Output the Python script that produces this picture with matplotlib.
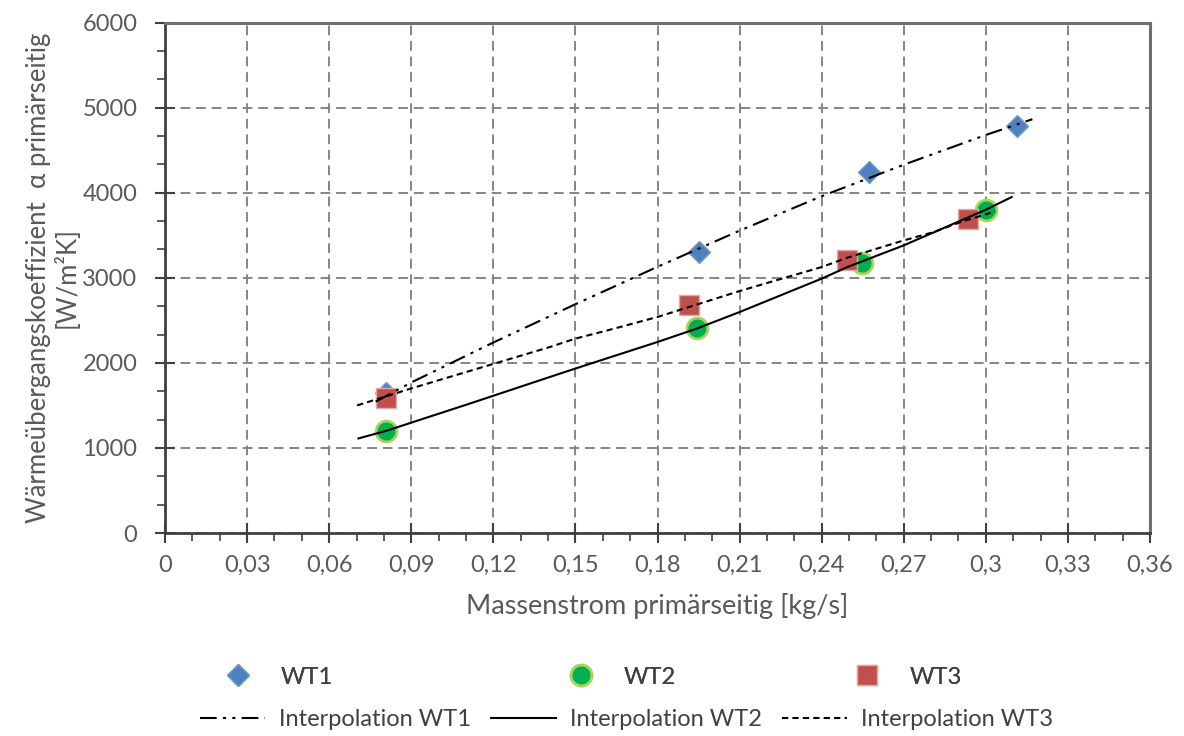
import matplotlib
matplotlib.use("Agg")
import matplotlib.pyplot as plt
from matplotlib.ticker import MultipleLocator, FuncFormatter

plt.rcParams["font.family"] = ["Lato", "DejaVu Sans"]

# measured heat transfer coefficients per heat exchanger
wt1_m = [0.0807, 0.1951, 0.2574, 0.3112]
wt1_alpha = [1650, 3300, 4250, 4790]
wt2_m = [0.0808, 0.1943, 0.2546, 0.2999]
wt2_alpha = [1200, 2410, 3170, 3800]
wt3_m = [0.0808, 0.1916, 0.2494, 0.2934]
wt3_alpha = [1590, 2685, 3215, 3690]

# interpolation curves
int1_m = [0.077, 0.09, 0.12, 0.15, 0.18, 0.21, 0.24, 0.27, 0.30, 0.317]
int1_alpha = [1545, 1770, 2240, 2690, 3130, 3555, 3960, 4330, 4680, 4865]
int2_m = [0.0707, 0.0808, 0.1115, 0.1407, 0.15, 0.18, 0.1943, 0.21, 0.24, 0.2494, 0.27, 0.30, 0.3094]
int2_alpha = [1112, 1201, 1523, 1835, 1934, 2246, 2403, 2598, 2991, 3127, 3382, 3801, 3949]
int3_m = [0.0702, 0.09, 0.1407, 0.15, 0.1618, 0.18, 0.21, 0.24, 0.2494, 0.27, 0.2809, 0.2907, 0.3034]
int3_alpha = [1500, 1700, 2187, 2286, 2383, 2540, 2845, 3127, 3237, 3440, 3538, 3655, 3781]

txt_gray = "#595959"

fig = plt.figure(figsize=(11.84, 7.36), dpi=100)
ax = fig.add_axes([0.1394, 0.2758, 0.8319, 0.6934])

p1, = ax.plot(wt1_m, wt1_alpha, ls="none", marker="D", ms=11.5, color="#4F81BD",
              mec="#6F9BD1", mew=1, zorder=3, label="WT1")
p2, = ax.plot(wt2_m, wt2_alpha, ls="none", marker="o", ms=15, color="#00B050",
              mec="#A9D45A", mew=2, zorder=3, label="WT2")
p3, = ax.plot(wt3_m, wt3_alpha, ls="none", marker="s", ms=15, color="#C0504D",
              mec="#E3A9A7", mew=1, zorder=3, label="WT3")

l1, = ax.plot(int1_m, int1_alpha, color="black", lw=1.5, ls=(0, (8, 3, 1.5, 3, 1.5, 3)),
              zorder=4, label="Interpolation WT1")
l2, = ax.plot(int2_m, int2_alpha, color="black", lw=1.5, ls="-", zorder=4,
              label="Interpolation WT2")
l3, = ax.plot(int3_m, int3_alpha, color="black", lw=1.5, ls=(0, (3, 2)), zorder=4,
              label="Interpolation WT3")

ax.set_xlim(0, 0.36)
ax.set_ylim(0, 6000)
ax.xaxis.set_major_locator(MultipleLocator(0.03))
ax.xaxis.set_minor_locator(MultipleLocator(0.01))
ax.yaxis.set_major_locator(MultipleLocator(1000))
ax.yaxis.set_minor_locator(MultipleLocator(1000 / 3))


def comma_fmt(v, pos):
    s = f"{v:.2f}".rstrip("0").rstrip(".")
    return s.replace(".", ",")


ax.xaxis.set_major_formatter(FuncFormatter(comma_fmt))
ax.grid(True, which="major", color="#858585", ls=(0, (5, 3)), lw=1.4)
ax.set_axisbelow(True)

for side in ["left", "bottom"]:
    ax.spines[side].set_color("#404040")
    ax.spines[side].set_linewidth(2)
for side in ["top", "right"]:
    ax.spines[side].set_color("#6E6E6E")
    ax.spines[side].set_linewidth(2.2)

ax.tick_params(which="major", direction="inout", length=14, width=1.5, color="#404040",
               labelsize=17, labelcolor=txt_gray)
ax.tick_params(axis="x", which="major", pad=9)
ax.tick_params(axis="y", which="major", pad=13)
ax.tick_params(which="minor", direction="out", length=6, width=1.2, color="#404040")

ax.set_xlabel("Massenstrom primärseitig [kg/s]", fontsize=19.5, color=txt_gray, labelpad=12)
ax.set_ylabel("Wärmeübergangskoeffizient  α primärseitig\n[W/m²K]", fontsize=18.5,
              color=txt_gray, labelpad=2, linespacing=1.1)

# marker legend: one entry per slot so the spacing can vary
marker_slots = [(p1, 0.191), (p2, 0.481), (p3, 0.722)]
for handle, left in marker_slots:
    leg = fig.legend(handles=[handle], loc="center left", bbox_to_anchor=(left, 0.080),
                     frameon=False, fontsize=17, handlelength=1.0, handletextpad=1.3,
                     borderpad=0, borderaxespad=0, labelcolor="#404040", numpoints=1)
    fig.add_artist(leg)

fig.legend(handles=[l1, l2, l3], ncol=3, loc="center left",
           bbox_to_anchor=(0.169, 0.022), frameon=False, fontsize=17,
           handlelength=2.75, handletextpad=0.6, columnspacing=0.85,
           borderpad=0, borderaxespad=0, labelcolor="#404040")

fig.savefig("out.png", dpi=100)
